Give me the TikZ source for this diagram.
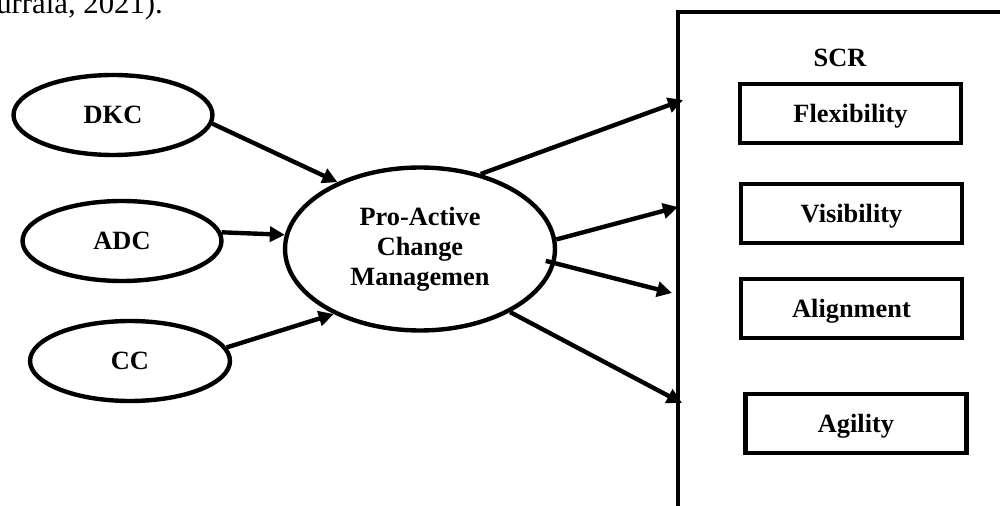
\documentclass[tikz,border=0pt]{standalone}
\usepackage{fontspec}
\setmainfont{Liberation Serif}
\usetikzlibrary{calc,positioning,arrows.meta,shapes.geometric}

\tikzset{
  oval/.style={draw, ellipse, line width=2.5pt, inner sep=0pt,
    font=\bfseries\fontsize{15}{17}\selectfont},
  item/.style={draw, rectangle, line width=2.5pt, inner sep=0pt, text depth=0pt,
    minimum width=4.42cm, minimum height=1.18cm,
    font=\bfseries\fontsize{15}{17}\selectfont},
  link/.style={line width=2.5pt, -{Triangle[length=3mm,width=3mm]}}
}

\begin{document}
\begin{tikzpicture}[x=0.02cm, y=-0.02cm]
  \useasboundingbox (0,0) rectangle (1000,506);

  % citation tail
  \node[anchor=base west, inner sep=0pt, font=\fontsize{17.5}{20}\selectfont] (cite) at (-4,14) {urrala, 2021).};

  % capabilities
  \node[oval, minimum width=3.98cm, minimum height=1.6cm] (dkc) at (113,115) {DKC};
  \node[oval, minimum width=3.98cm, minimum height=1.6cm] (adc) at (122,241) {ADC};
  \node[oval, minimum width=4.0cm, minimum height=1.6cm] (cc) at (130,361) {CC};

  % mediator
  \node[oval, align=center, minimum width=5.4cm, minimum height=3.26cm] (pacm) at (420,249)
    {Pro-Active\\Change\\Managemen};

  % SCR frame
  \draw[line width=2.6pt] (678,560) -- (678,12) -- (1040,12);
  \node[font=\bfseries\fontsize{15}{17}\selectfont] (scr) at (840,58) {SCR};
  \coordinate (t1) at (683,100);
  \coordinate (t2) at (678,207);
  \coordinate (t3) at (672,293);
  \coordinate (t4) at (682,403);
  \coordinate (s3) at ($(pacm.-5)+(-10,0)$);

  % SCR dimensions
  \node[item] (flex) at (850.5,113.5) {Flexibility};
  \node[item] (vis) at (851.5,213.5) {Visibility};
  \node[item] (align) at (851.5,308.5) {Alignment};
  \node[item] (agil) at (856,423.5) {Agility};

  % inputs
  \draw[link] (dkc.-5) -- (pacm.141);
  \draw[link] (adc.5) -- (pacm.174);
  \draw[link] (cc.8) -- (pacm.217);

  % outputs
  \draw[link] (pacm.51) -- (t1);
  \draw[link] (pacm.4) -- (t2);
  \draw[link] (s3) -- (t3);
  \draw[link] (pacm.-35) -- (t4);
\end{tikzpicture}
\end{document}
